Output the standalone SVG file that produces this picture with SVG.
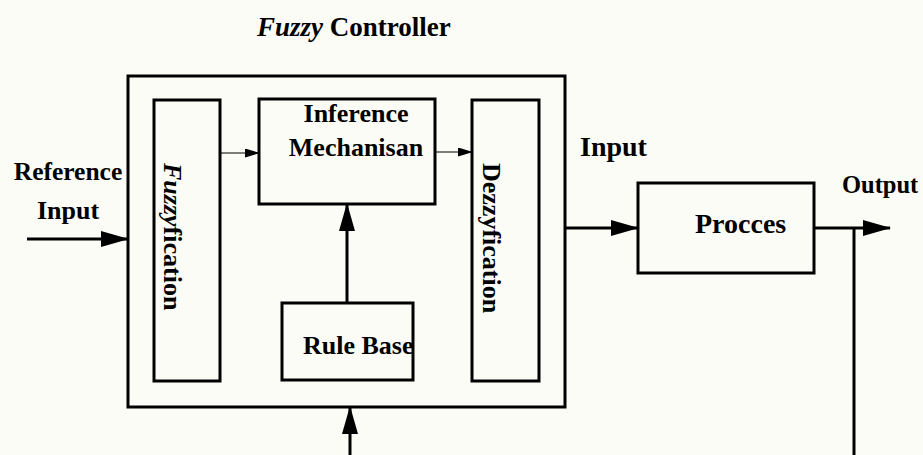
<svg xmlns="http://www.w3.org/2000/svg" width="923" height="455" viewBox="0 0 923 455">
<defs>
<style>
.box{fill:none;stroke:#000;stroke-width:3;stroke-linecap:square}
.t{font-family:"Liberation Serif","Times New Roman",serif;font-weight:bold;fill:#000}
.it{font-style:italic}
.big{fill:none;stroke:#000;stroke-width:3}
.thin{fill:none;stroke:#000;stroke-width:1.2}
</style>
<marker id="ah" markerUnits="userSpaceOnUse" markerWidth="28" markerHeight="16" refX="27" refY="8" orient="auto">
<path d="M0,0 L28,8 L0,16 z" fill="#000"/>
</marker>
<marker id="as" markerUnits="userSpaceOnUse" markerWidth="15" markerHeight="9" refX="14" refY="4.5" orient="auto">
<path d="M0,0 L15,4.5 L0,9 z" fill="#000"/>
</marker>
</defs>
<rect width="923" height="455" fill="#fcfcf6"/>
<text class="t" x="257" y="36" font-size="27"><tspan class="it">Fuzzy</tspan> Controller</text>
<g id="controller">
<rect class="box" x="128" y="76" width="437" height="331"/>
</g>
<g id="fuzzyfication">
<rect class="box" x="154" y="100" width="66" height="281"/>
<text class="t" font-size="26" transform="translate(164,163) rotate(90)"><tspan class="it">Fuzzy</tspan>fication</text>
</g>
<g id="inference">
<rect class="box" x="259" y="99" width="176" height="105"/>
<text class="t" x="356" y="122" font-size="26" text-anchor="middle">Inference</text>
<text class="t" x="356" y="156" font-size="26" text-anchor="middle">Mechanisan</text>
</g>
<g id="dezzyfication">
<rect class="box" x="472" y="100" width="67" height="281"/>
<text class="t" font-size="26" transform="translate(483,163) rotate(90)">Dezzyfication</text>
</g>
<g id="rulebase">
<rect class="box" x="282" y="303" width="131" height="77"/>
<text class="t" x="303" y="354" font-size="26">Rule Base</text>
</g>
<g id="procces">
<rect class="box" x="638" y="183" width="176" height="90"/>
<text class="t" x="695" y="233" font-size="28">Procces</text>
</g>
<g id="labels">
<text class="t" x="68" y="180" font-size="25.5" text-anchor="middle">Reference</text>
<text class="t" x="68" y="219" font-size="26" text-anchor="middle">Input</text>
<text class="t" x="580" y="156" font-size="28">Input</text>
<text class="t" x="842" y="193" font-size="24.5">Output</text>
</g>
<g id="connectors">
<line class="big" x1="27" y1="239" x2="128" y2="239" marker-end="url(#ah)"/>
<line class="thin" x1="220" y1="153" x2="259" y2="153" marker-end="url(#as)"/>
<line class="thin" x1="435" y1="152" x2="472" y2="152" marker-end="url(#as)"/>
<line class="big" x1="347" y1="303" x2="347" y2="204" marker-end="url(#ah)"/>
<line class="big" x1="350" y1="455" x2="350" y2="407" marker-end="url(#ah)"/>
<line class="big" x1="564" y1="228" x2="638" y2="228" marker-end="url(#ah)"/>
<line class="big" x1="814" y1="228" x2="890" y2="228" marker-end="url(#ah)"/>
<line class="big" x1="854" y1="228" x2="854" y2="455"/>
</g>
</svg>
